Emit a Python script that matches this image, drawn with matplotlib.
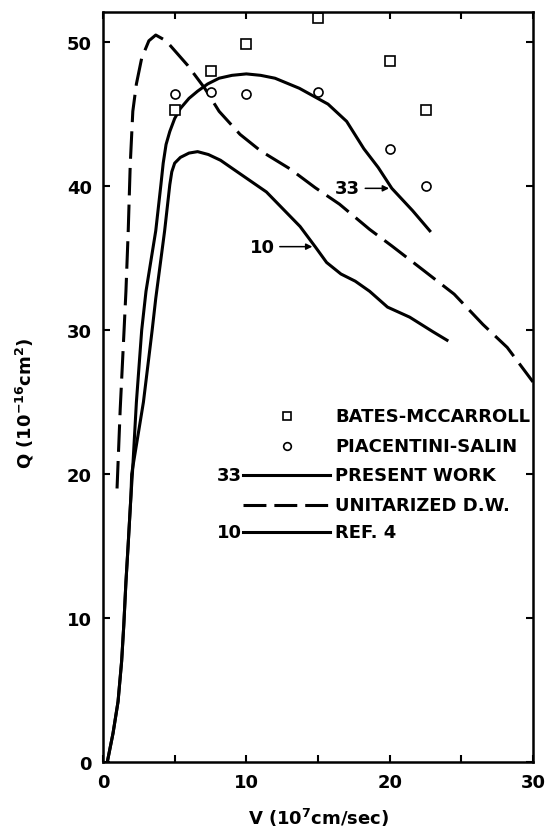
import matplotlib
matplotlib.use("Agg")
import matplotlib.pyplot as plt

# data (V in 1e7 cm/s, Q in 1e-16 cm^2)
V_BATES = [5, 7.5, 10, 15, 20, 22.5]
Q_BATES = [45.3, 48.0, 49.9, 51.7, 48.7, 45.3]

V_PIAC = [5, 7.5, 10, 15, 20, 22.5]
Q_PIAC = [46.4, 46.55, 46.4, 46.55, 42.6, 40.0]

V_PRESENT = [0.3, 0.7, 1.05, 1.3, 1.45, 1.6, 1.75, 1.95, 2.05, 2.33, 2.7, 3.0,
             3.68, 4.04, 4.2, 4.4, 4.66, 5.0, 5.4, 6.0, 6.6, 7.3, 8.1, 9.0, 10.0,
             11.0, 12.0, 13.7, 15.7, 17.0, 18.2, 19.2, 20.15, 21.6, 22.8]
Q_PRESENT = [0.0, 2.0, 4.2, 7.0, 9.5, 12.5, 15.0, 18.5, 20.0, 25.0, 30.0, 32.7,
             36.9, 40.1, 41.6, 42.9, 43.8, 44.7, 45.4, 46.1, 46.6, 47.1, 47.5,
             47.7, 47.8, 47.7, 47.5, 46.8, 45.7, 44.5, 42.6, 41.3, 39.85, 38.3, 36.9]

V_REF4 = [0.3, 0.7, 1.05, 1.3, 1.45, 1.6, 1.75, 1.95, 2.0, 2.82, 3.43, 3.68,
          4.3, 4.66, 4.8, 5.0, 5.4, 6.0, 6.6, 7.35, 8.2, 9.07, 11.4, 13.75, 14.8,
          15.6, 16.6, 17.6, 18.6, 19.85, 21.4, 23.0, 24.0]
Q_REF4 = [0.0, 2.0, 4.2, 7.0, 9.5, 12.5, 15.0, 18.5, 20.0, 25.0, 30.0, 32.2,
          36.9, 40.1, 41.0, 41.6, 42.0, 42.3, 42.4, 42.2, 41.8, 41.2, 39.6, 37.2,
          35.8, 34.7, 33.9, 33.4, 32.7, 31.6, 30.9, 29.9, 29.3]

V_UDW = [0.98, 1.2, 1.47, 1.6, 1.76, 1.9, 2.08, 2.33, 2.7, 3.2, 3.68, 4.4,
         5.9, 7.1, 8.1, 9.56, 11.0, 13.05, 14.8, 16.5, 18.6, 20.15, 22.3,
         24.5, 26.5, 28.2, 30.0]
Q_UDW = [19.0, 24.5, 30.0, 32.7, 36.9, 41.5, 45.2, 47.1, 48.9, 50.1, 50.5, 50.1,
         48.4, 46.8, 45.2, 43.6, 42.45, 41.2, 39.9, 38.75, 37.0, 35.85, 34.2,
         32.5, 30.4, 28.8, 26.4]

LEGEND_ROWS = [24.05, 21.97, 19.93, 17.85, 15.97]
LEGEND_TEXT = ["BATES-MCCARROLL", "PIACENTINI-SALIN", "PRESENT WORK",
               "UNITARIZED D.W.", "REF. 4"]

X_TICKS = [0, 5, 10, 15, 20, 25, 30]
X_TICKLABELS = ["0", "", "10", "", "20", "", "30"]
Y_TICKS = [0, 10, 20, 30, 40, 50]

plt.rcParams["font.family"] = ["DejaVu Sans"]
plt.rcParams["font.weight"] = "bold"
plt.rcParams["mathtext.default"] = "regular"

FS = 13
LW = 2.2
DASH = (0, (9, 3))

fig = plt.figure(figsize=(5.49, 8.29), dpi=100)
ax = fig.add_axes([103 / 549, 1 - 763 / 829, 430 / 549, 750 / 829])

ax.plot(V_PRESENT, Q_PRESENT, color="black", lw=LW, solid_joinstyle="round")
ax.plot(V_REF4, Q_REF4, color="black", lw=LW, solid_joinstyle="round")
ax.plot(V_UDW, Q_UDW, color="black", lw=LW, linestyle=DASH,
        dash_joinstyle="round")
ax.plot(V_BATES, Q_BATES, linestyle="none", marker="s", ms=6.5,
        mfc="white", mec="black", mew=1.2)
ax.plot(V_PIAC, Q_PIAC, linestyle="none", marker="o", ms=6.5,
        mfc="white", mec="black", mew=1.2)

# curve labels with arrows
ax.text(17.93, 39.9, "33", fontsize=FS, fontweight="bold", ha="right", va="center")
ax.annotate("", xy=(20.15, 39.85), xytext=(18.1, 39.85),
            arrowprops=dict(arrowstyle="-|>", color="black", lw=1.1, mutation_scale=9))
ax.text(12.0, 35.8, "10", fontsize=FS, fontweight="bold", ha="right", va="center")
ax.annotate("", xy=(14.8, 35.8), xytext=(12.14, 35.8),
            arrowprops=dict(arrowstyle="-|>", color="black", lw=1.1, mutation_scale=9))

# hand-drawn legend
ax.plot([12.84], [LEGEND_ROWS[0]], marker="s", ms=5.5, mfc="white", mec="black", mew=1.2)
ax.plot([12.84], [LEGEND_ROWS[1]], marker="o", ms=5.5, mfc="white", mec="black", mew=1.2)
ax.plot([9.79, 15.84], [LEGEND_ROWS[2]] * 2, color="black", lw=LW)
ax.plot([9.79, 15.84], [LEGEND_ROWS[3]] * 2, color="black", lw=LW,
        linestyle=(0, (7.5, 2.6)))
ax.plot([9.79, 15.84], [LEGEND_ROWS[4]] * 2, color="black", lw=LW)
ax.text(9.68, LEGEND_ROWS[2], "33", fontsize=FS, fontweight="bold", ha="right", va="center")
ax.text(9.68, LEGEND_ROWS[4], "10", fontsize=FS, fontweight="bold", ha="right", va="center")
for yy, label in zip(LEGEND_ROWS, LEGEND_TEXT):
    ax.text(16.2, yy, label, fontsize=FS, fontweight="bold", ha="left", va="center")

ax.set_xlim(0, 30)
ax.set_ylim(0, 52.1)
ax.set_xticks(X_TICKS)
ax.set_xticklabels(X_TICKLABELS)
ax.set_yticks(Y_TICKS)
ax.tick_params(direction="in", length=5, width=1.5, labelsize=FS, pad=8,
               top=True, right=True)
for lab in ax.get_xticklabels() + ax.get_yticklabels():
    lab.set_fontweight("bold")
for sp in ax.spines.values():
    sp.set_linewidth(1.8)

ax.set_xlabel("V (10$^7$cm/sec)", fontsize=FS, fontweight="bold")
ax.xaxis.set_label_coords(0.502, -0.058)
ax.set_ylabel("Q (10$^{-16}$cm$^2$)", fontsize=FS, fontweight="bold")
ax.yaxis.set_label_coords(-0.155, 0.48)

fig.savefig("out.png", dpi=100)
